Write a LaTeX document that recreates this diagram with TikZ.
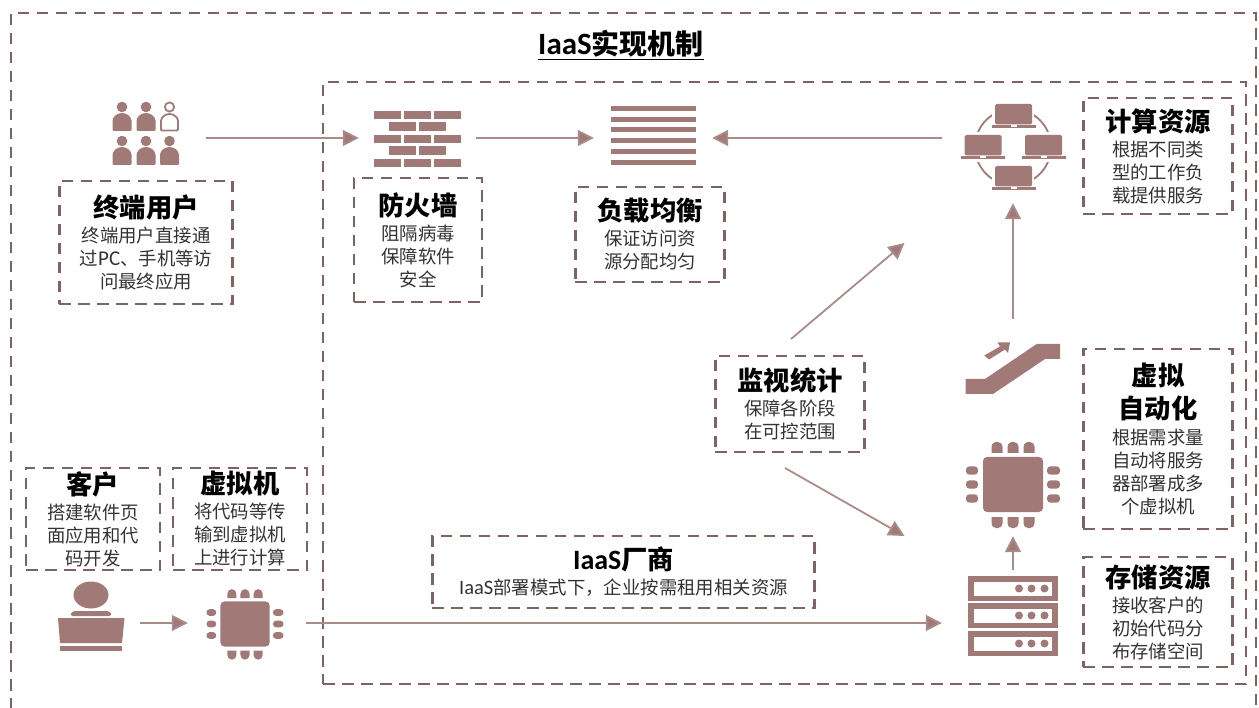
\documentclass[tikz,border=0pt]{standalone}
\usepackage{fontspec}
\setmainfont{Noto Sans CJK SC}
\newfontfamily\latn{Carlito}
\usetikzlibrary{arrows.meta}
\definecolor{iconc}{HTML}{A17A78}
\definecolor{dashc}{HTML}{7F6361}
\definecolor{arrowc}{HTML}{A98C8A}
\definecolor{bodyc}{HTML}{333333}
\newcommand{\hd}[1]{{\fontsize{26.3}{23}\selectfont\bfseries\color{black}#1}}
\newcommand{\tb}[2]{\hd{#1}\\[2pt]#2}
\newcommand{\drawchip}[2]{%
  \begin{scope}[shift={(#1)},scale=#2]
    \fill[iconc,rounded corners=4] (-30,-27.5) rectangle (30,27.5);
    \foreach \p in {-16,0,16}{
      \fill[iconc] (\p-5.5,-31.5) [rounded corners=4.5] -- (\p-5.5,-42.5) -- (\p+5.5,-42.5) [sharp corners] -- (\p+5.5,-31.5) -- cycle;
      \fill[iconc] (\p-5.5,32.5) [rounded corners=4.5] -- (\p-5.5,43.5) -- (\p+5.5,43.5) [sharp corners] -- (\p+5.5,32.5) -- cycle;
    }
    \foreach \p in {-14,0,14}{
      \fill[iconc,rounded corners=3.5] (-35,\p-4.2) -- (-47,\p-4.2) -- (-47,\p+4.2) -- (-35,\p+4.2) -- cycle;
      \fill[iconc,rounded corners=3.5] (34,\p-4.2) -- (47,\p-4.2) -- (47,\p+4.2) -- (34,\p+4.2) -- cycle;
    }
  \end{scope}}
\newcommand{\drawperson}[2]{% x, y head centre
  \fill[iconc] (#1,#2) circle (5.3);
  \fill[iconc,rounded corners=1] (#1-9.5,#2+24) -- (#1-9.5,#2+15) arc[start angle=180,end angle=360,x radius=9.5,y radius=9] -- (#1+9.5,#2+24) -- cycle;}
\newcommand{\drawlaptop}[2]{% centre x, screen top y
  \fill[iconc,rounded corners=1.5] (#1-18.5,#2) rectangle (#1+18.5,#2+20.5);
  \fill[iconc] (#1-22,#2+21.5) rectangle (#1-3,#2+24);
  \fill[iconc] (#1+3,#2+21.5) rectangle (#1+22,#2+24);
  \fill[iconc] (#1-3,#2+23) rectangle (#1+3,#2+24);}
\newcommand{\drawserver}[1]{%
  \fill[iconc] (968,#1) rectangle (1058,#1+25);
  \fill[white] (974,#1+5.5) rectangle (1052,#1+19.5);
  \foreach \q in {1019,1031.5,1044.5} \fill[iconc] (\q,#1+12.5) circle (4);}
\tikzset{
  x=1pt,y=-1pt,
  dashline/.style={draw=dashc,line width=2.8pt,dash pattern=on 11.5pt off 7.5pt},
  txtbox/.style={dashline,rectangle,inner sep=0pt,align=center,text=bodyc,
    font=\fontsize{18.4}{23}\selectfont},
  icon/.style={rectangle,inner sep=0pt,draw=none},
  conn/.style={draw=arrowc,line width=1.8pt,-{Triangle[length=16pt,width=16pt,fill=iconc]}},
}
\begin{document}
\begin{tikzpicture}
\useasboundingbox (0,0) rectangle (1259,708);
\clip (0,0) rectangle (1259,708);
% frames
\node[dashline,rectangle,inner sep=0pt,minimum width=1245pt,minimum height=720pt] (outer) at (633.5,373) {};
\node[dashline,rectangle,inner sep=0pt,minimum width=923pt,minimum height=602pt] (inner) at (784.5,383) {};
\node[inner sep=0pt,font=\fontsize{28}{30}\selectfont\bfseries] (title) at (621,45) {\underline{{\latn\fontsize{31}{30}\selectfont IaaS}实现机制}};
% text boxes
\node[txtbox,minimum width=173.5pt,minimum height=123pt] (tuser) at (146,242.5) {\tb{终端用户}{终端用户直接通\\过{\latn\fontsize{21}{23}\selectfont PC}、手机等访\\问最终应用}};
\node[txtbox,minimum width=128pt,minimum height=124pt] (tfw) at (418,240) {\tb{防火墙}{阻隔病毒\\保障软件\\安全}};
\node[txtbox,minimum width=149.5pt,minimum height=95pt] (tlb) at (650,234.5) {\tb{负载均衡}{保证访问资\\源分配均匀}};
\node[txtbox,minimum width=149.5pt,minimum height=116pt] (tcomp) at (1158,156) {\tb{计算资源}{根据不同类\\型的工作负\\载提供服务}};
\node[txtbox,minimum width=149.5pt,minimum height=180pt] (tauto) at (1158,439) {\hd{虚拟}\\[7pt]\hd{自动化}\\[2.5pt]根据需求量\\自动将服务\\器部署成多\\个虚拟机};
\node[txtbox,minimum width=149.5pt,minimum height=110pt] (tstore) at (1158,612) {\tb{存储资源}{接收客户的\\初始代码分\\布存储空间}};
\node[txtbox,minimum width=149.5pt,minimum height=96pt] (tmon) at (790,404) {\tb{监视统计}{保障各阶段\\在可控范围}};
\node[txtbox,minimum width=382.5pt,minimum height=72pt] (tiaas) at (623.5,572) {\tb{{\latn\fontsize{28}{23}\selectfont IaaS}厂商}{{\latn\fontsize{20.5}{23}\selectfont IaaS}部署模式下，企业按需租用相关资源}};
\node[txtbox,minimum width=134pt,minimum height=102pt] (tclient) at (93,519) {\tb{客户}{搭建软件页\\面应用和代\\码开发}};
\node[txtbox,minimum width=134pt,minimum height=102pt] (tvm) at (240,519) {\tb{虚拟机}{将代码等传\\输到虚拟机\\上进行计算}};
% icon anchor nodes (their borders are where the connectors end)
\node[icon,minimum width=120pt,minimum height=64pt] (users) at (146,138) {};
\node[icon,minimum width=117pt,minimum height=60pt] (fw) at (417.5,138) {};
\node[icon,minimum width=118pt,minimum height=60pt] (lb) at (653,138) {};
\node[icon,minimum width=142pt,minimum height=130pt] (comp) at (1013,138) {};
\node[icon,minimum width=100pt,minimum height=100pt] (esc) at (1013,369) {};
\node[icon,minimum width=100pt,minimum height=104pt] (chip) at (1013,484) {};
\node[icon,minimum width=142pt,minimum height=86pt] (server) at (1013,613) {};
\node[icon,minimum width=98pt,minimum height=70pt] (person) at (91,623) {};
\node[icon,minimum width=118pt,minimum height=70pt] (vm) at (247,623) {};
\coordinate (monup) at (791,339);
\coordinate (monupend) at (904.5,243);
\coordinate (mondown) at (785,468);
\coordinate (mondownend) at (904.5,536);
% users
\drawperson{122}{107}
\drawperson{146}{107}
\draw[iconc,line width=1.8pt] (169.5,107) circle (4.6);
\draw[iconc,line width=1.8pt,rounded corners=1] (161,130.5) -- (161,122) arc[start angle=180,end angle=360,x radius=8.5,y radius=8] -- (178,130.5) -- cycle;
\drawperson{122}{141}
\drawperson{146}{141}
\drawperson{169.5}{141}
% firewall
\foreach \yy in {111,135,159}{
  \fill[iconc] (374,\yy) rectangle ++(26.5,8.5);
  \fill[iconc] (404,\yy) rectangle ++(26.5,8.5);
  \fill[iconc] (434,\yy) rectangle ++(26.5,8.5);}
\foreach \yy in {122.5,146.5}{
  \fill[iconc] (389,\yy) rectangle ++(26.5,8.5);
  \fill[iconc] (419,\yy) rectangle ++(26.5,8.5);}
% load balance
\foreach \yy in {109,120,130,141,152,163}{\fill[iconc] (611,\yy-2.5) rectangle (695.5,\yy+2.5);}
% compute
\draw[iconc,line width=1.8pt] (1013,147) circle (38);
\fill[white] (992,100) rectangle (1034,130);
\fill[white] (992,164) rectangle (1034,194);
\fill[white] (958,132) rectangle (1068,162);
\drawlaptop{1013.5}{104}
\drawlaptop{983}{135}
\drawlaptop{1043.5}{135}
\drawlaptop{1013.5}{166}
% escalator
\fill[iconc] (965.7,379) -- (985,379) -- (1036.7,344) -- (1060,344) -- (1060,359) -- (1045,359) -- (993,394) -- (965.7,394) -- cycle;
\fill[iconc] (984.3,355.5) -- (1000,346.5) -- (997.5,342.5) -- (1010,342.5) -- (1008,353) -- (1005,349.5) -- (989,359.5) -- cycle;
% chips
\drawchip{1013,484.5}{1}
\drawchip{245,624}{0.82}
% server
\drawserver{576}
\drawserver{603}
\drawserver{631}
% person with laptop
\fill[iconc] (91,595) ellipse (17.5 and 13.5);
\fill[iconc,rounded corners=3] (70,616) -- (72,611) -- (110,611) -- (112,616) -- cycle;
\fill[iconc] (58,618) -- (124.5,618) -- (122,643) -- (60,643) -- cycle;
\fill[iconc] (60,646) -- (122,646) -- (122,651) -- (60,651) -- cycle;
% connectors
\draw[conn] (users.east) -- (fw.west);
\draw[conn] (fw.east) -- (lb.west);
\draw[conn] (comp.west) -- (lb.east);
\draw[conn] (esc.north) -- (comp.south);
\draw[conn] (server.north) -- (chip.south);
\draw[conn] (person.east) -- (vm.west);
\draw[conn] (vm.east) -- (vm.east -| server.west);
\draw[conn] (monup) -- (monupend);
\draw[conn] (mondown) -- (mondownend);
\end{tikzpicture}
\end{document}
